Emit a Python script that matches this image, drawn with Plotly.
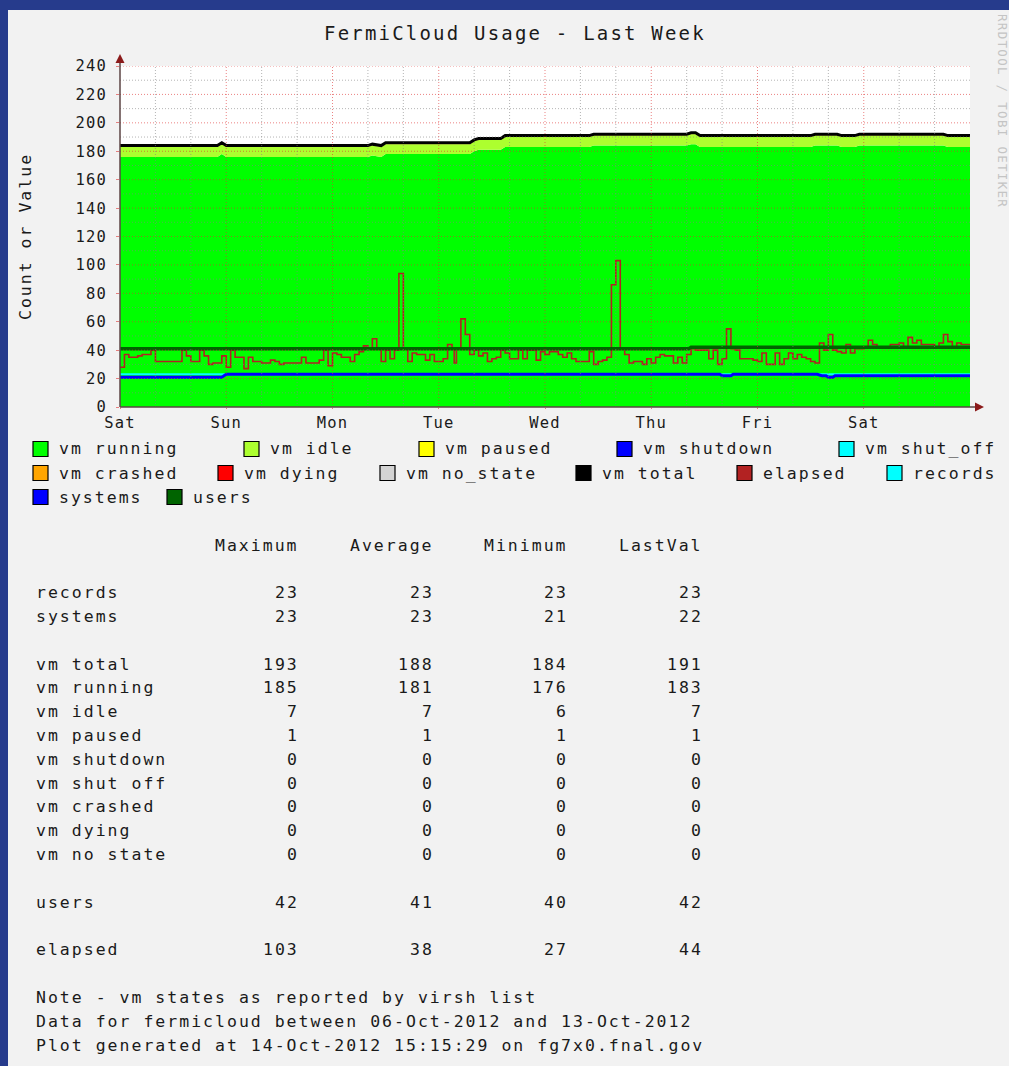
import plotly.graph_objects as go

# ---------------- data ----------------
# hours since Sat 06-Oct-2012 00:00
state_hours = [0, 22, 23, 24, 56, 57, 59, 60, 79, 80, 81, 86, 87, 106, 107, 128, 129, 130, 131,
               156, 157, 162, 163, 166, 167, 186, 187, 192]
vm_total = [184, 184, 186, 184, 184, 185, 184, 186, 186, 188, 189, 189, 191, 191, 192, 192, 193, 193, 191,
            191, 192, 192, 191, 191, 192, 192, 191, 191]
vm_running = [176, 176, 178, 176, 176, 177, 176, 178, 178, 180, 181, 181, 183, 183, 184, 184, 185, 185, 183,
              183, 184, 184, 183, 183, 184, 184, 183, 183]
vm_idle = [7, 7, 7, 7, 7, 7, 7, 7, 7, 7, 7, 7, 7, 7, 7, 7, 7, 7, 7,
           7, 7, 7, 7, 7, 7, 7, 7, 7]
vm_paused = [1, 1, 1, 1, 1, 1, 1, 1, 1, 1, 1, 1, 1, 1, 1, 1, 1, 1, 1,
             1, 1, 1, 1, 1, 1, 1, 1, 1]

elapsed_hours = [0, 1, 2, 4, 5, 7, 8, 14, 15, 16, 18, 19, 20, 21, 23, 24, 25, 26, 28, 29, 30, 32, 34, 35,
                 36, 37, 41, 42, 45, 46, 47, 48, 49, 50, 52, 53, 54, 55, 56, 57, 58, 59, 60, 61, 62, 63,
                 64, 65, 66, 67, 69, 70, 71, 73, 74, 75, 75.5, 76, 77, 78, 79, 80, 81, 82, 83, 84, 85,
                 86, 87, 88, 90, 91, 92, 94, 95, 96, 97, 99, 100, 101, 102, 103, 106, 107, 108, 109,
                 110, 111, 112, 113, 114, 115, 116, 118, 119, 120, 121, 122, 123, 125, 126, 127, 128,
                 129, 130, 133, 134, 135, 136, 137, 138, 139, 140, 141, 143, 144, 145, 146, 148, 149,
                 150, 151, 152, 153, 154, 155, 156, 157, 158, 159, 160, 161, 162, 163, 164, 165, 166,
                 168, 169, 170, 171, 174, 176, 177, 178, 179, 180, 181, 183, 184, 185, 186, 187, 188,
                 189, 190, 192]
elapsed = [28, 37, 35, 36, 37, 40, 32, 40, 36, 32, 40, 36, 30, 31, 36, 28, 40, 35, 27, 35, 32, 31, 33, 32,
           30, 31, 35, 31, 33, 40, 29, 38, 37, 35, 32, 37, 39, 43, 41, 48, 41, 32, 40, 34, 40, 94,
           41, 32, 38, 37, 33, 37, 32, 34, 44, 41, 31, 41, 62, 51, 37, 40, 36, 38, 32, 34, 35,
           40, 38, 34, 40, 34, 40, 33, 39, 37, 39, 37, 35, 38, 34, 32, 39, 30, 32, 33,
           35, 86, 103, 41, 37, 31, 32, 30, 34, 31, 35, 37, 36, 31, 35, 31, 37,
           41, 40, 34, 40, 30, 34, 55, 41, 40, 34, 34, 33, 32, 38, 30, 38, 30,
           34, 38, 34, 37, 35, 34, 32, 31, 45, 40, 51, 40, 39, 38, 44, 38, 41,
           42, 47, 44, 42, 44, 45, 42, 49, 45, 47, 44, 44, 42, 45, 51, 46, 42,
           45, 44, 44]

records_hours = [0, 192]
records = [23, 23]
systems_hours = [0, 23, 24, 135.5, 136, 138, 138.5, 157.5, 158.5, 159.5, 160, 161, 161.5, 192]
systems = [21, 21, 23, 23, 22, 22, 23, 23, 22, 22, 21, 21, 22, 22]
users_hours = [0, 128.5, 129, 192]
users = [41, 41, 42, 42]

day_ticks = [0, 24, 48, 72, 96, 120, 144, 168]
day_labels = ["Sat", "Sun", "Mon", "Tue", "Wed", "Thu", "Fri", "Sat"]
y_ticks = [0, 20, 40, 60, 80, 100, 120, 140, 160, 180, 200, 220, 240]

legend_rows = [
    [("vm running", "#00FF00"), ("vm idle", "#ADFF2F"), ("vm paused", "#FFFF00"),
     ("vm shutdown", "#0000FF"), ("vm shut_off", "#00FFFF")],
    [("vm crashed", "#FFA500"), ("vm dying", "#FF0000"), ("vm no_state", "#D3D3D3"),
     ("vm total", "#000000"), ("elapsed", "#B22222"), ("records", "#00FFFF")],
    [("systems", "#0000FF"), ("users", "#006400")],
]

table_header = ["Maximum", "Average", "Minimum", "LastVal"]
table_rows = ["records", "systems", "vm total", "vm running", "vm idle", "vm paused", "vm shutdown",
              "vm shut off", "vm crashed", "vm dying", "vm no state", "users", "elapsed"]
t_max = [23, 23, 193, 185, 7, 1, 0, 0, 0, 0, 0, 42, 103]
t_avg = [23, 23, 188, 181, 7, 1, 0, 0, 0, 0, 0, 41, 38]
t_min = [23, 21, 184, 176, 6, 1, 0, 0, 0, 0, 0, 40, 27]
t_last = [23, 22, 191, 183, 7, 1, 0, 0, 0, 0, 0, 42, 44]
footnotes = ["Note - vm states as reported by virsh list",
             "Data for fermicloud between 06-Oct-2012 and 13-Oct-2012",
             "Plot generated at 14-Oct-2012 15:15:29 on fg7x0.fnal.gov"]

# ---------------- layout helpers ----------------
W, H = 1009, 1066
L, R, T, B = 120, 970, 66, 407
MONO = "DejaVu Sans Mono"
TXT = "#1a1a1a"


def px(x):
    return (x - L) / (R - L)


def py(y):
    return (B - y) / (B - T)


def sp(text, ls):
    return f'<span style="letter-spacing:{ls}px">{text}</span>'


fig = go.Figure()

# stacked areas
fig.add_trace(go.Scatter(x=state_hours, y=vm_running, stackgroup="vm", mode="lines",
                         line=dict(width=0), fillcolor="#00FF00", name="vm running"))
fig.add_trace(go.Scatter(x=state_hours, y=vm_idle, stackgroup="vm", mode="lines",
                         line=dict(width=0), fillcolor="#ADFF2F", name="vm idle"))
fig.add_trace(go.Scatter(x=state_hours, y=vm_paused, stackgroup="vm", mode="lines",
                         line=dict(width=0), fillcolor="#FFFF00", name="vm paused"))
# lines
fig.add_trace(go.Scatter(x=state_hours, y=vm_total, mode="lines",
                         line=dict(color="#000000", width=3), name="vm total"))
fig.add_trace(go.Scatter(x=elapsed_hours, y=elapsed, mode="lines",
                         line=dict(color="#B22222", width=1.6, shape="hv"), name="elapsed"))
fig.add_trace(go.Scatter(x=records_hours, y=records, mode="lines",
                         line=dict(color="#00FFFF", width=2), name="records"))
fig.add_trace(go.Scatter(x=systems_hours, y=systems, mode="lines",
                         line=dict(color="#0000FF", width=3), name="systems"))
fig.add_trace(go.Scatter(x=users_hours, y=users, mode="lines",
                         line=dict(color="#006400", width=3.5), name="users"))

shapes = []
# grid (drawn over areas, as rrdtool does)
MAJ = "rgba(222,48,48,0.6)"
MIN = "rgba(130,130,130,0.6)"
for v in range(10, 241, 10):
    shapes.append(dict(type="line", xref="paper", yref="y", x0=0, x1=1, y0=v, y1=v, layer="above",
                       line=dict(color=MAJ if v % 20 == 0 else MIN, width=1, dash="1px,2px")))
for h in range(8, 192, 8):
    shapes.append(dict(type="line", xref="x", yref="paper", x0=h, x1=h, y0=0, y1=1, layer="above",
                       line=dict(color=MAJ if h % 24 == 0 else MIN, width=1, dash="1px,2px")))

# axis lines and arrows
AX = "#5c4444"
ARW = "#8b1a1a"
shapes.append(dict(type="line", xref="paper", yref="paper", x0=0, x1=0, y0=0, y1=py(60),
                   line=dict(color=AX, width=1.5), layer="above"))
shapes.append(dict(type="line", xref="paper", yref="paper", x0=0, x1=px(977), y0=0, y1=0,
                   line=dict(color=AX, width=1.5), layer="above"))
shapes.append(dict(type="path", xref="paper", yref="paper", layer="above",
                   path=f"M {px(115.5)} {py(63)} L {px(124.5)} {py(63)} L {px(120)} {py(54)} Z",
                   fillcolor=ARW, line=dict(width=0)))
shapes.append(dict(type="path", xref="paper", yref="paper", layer="above",
                   path=f"M {px(975)} {py(402.5)} L {px(975)} {py(411.5)} L {px(984)} {py(407)} Z",
                   fillcolor=ARW, line=dict(width=0)))

# blue frame of the page (top and left)
FRAME = "#263b8c"
shapes.append(dict(type="rect", xref="paper", yref="paper", x0=px(0), x1=px(W), y0=py(10), y1=py(0),
                   fillcolor=FRAME, line=dict(width=0), layer="below"))
shapes.append(dict(type="rect", xref="paper", yref="paper", x0=px(0), x1=px(8), y0=py(H), y1=py(0),
                   fillcolor=FRAME, line=dict(width=0), layer="below"))

annotations = []


def text(x, y, s, size=16.5, ls=2.0, xanchor="left", yanchor="middle", color=TXT, angle=0):
    annotations.append(dict(x=px(x), y=py(y), xref="paper", yref="paper", text=sp(s, ls),
                            showarrow=False, xanchor=xanchor, yanchor=yanchor, textangle=angle,
                            font=dict(family=MONO, size=size, color=color)))


# title, axis title, watermark
text(515, 33, "FermiCloud Usage - Last Week", size=19, ls=2.2, xanchor="center")
text(25, 237, "Count or Value", size=16.5, ls=2.0, xanchor="center", angle=-90)
text(1002, 12, "RRDTOOL / TOBI OETIKER", size=12.5, ls=1.3, xanchor="center", yanchor="top",
     color="#c4c4c4", angle=90)

# custom legend (rrdtool style, justified rows)
legend_x = [[33, 244, 419, 617, 839],
            [33, 218, 380, 576, 737, 887],
            [33, 167]]
legend_y = [449, 473, 497]
for row, xs, yy in zip(legend_rows, legend_x, legend_y):
    for (name, col), xx in zip(row, xs):
        shapes.append(dict(type="rect", xref="paper", yref="paper", x0=px(xx), x1=px(xx + 15),
                           y0=py(yy + 7.5), y1=py(yy - 7.5), fillcolor=col,
                           line=dict(color="#000000", width=1.2), layer="above"))
        text(xx + 24, yy, name)

# statistics table
col_right = [301, 436, 570, 705]
LINE0, LH = 545, 23.81
for hdr, xr in zip(table_header, col_right):
    text(xr, LINE0, hdr, xanchor="right")
row_lines = [2, 3, 5, 6, 7, 8, 9, 10, 11, 12, 13, 15, 17]
for i, name in enumerate(table_rows):
    yy = LINE0 + LH * row_lines[i]
    text(34, yy, name)
    for vals, xr in zip([t_max, t_avg, t_min, t_last], col_right):
        text(xr, yy, str(vals[i]), xanchor="right")
for j, note in enumerate(footnotes):
    text(34, LINE0 + LH * (19 + j), note)

fig.update_layout(
    width=W, height=H, autosize=False,
    margin=dict(l=L, r=W - R, t=T, b=H - B, pad=0),
    paper_bgcolor="#f2f2f2", plot_bgcolor="#ffffff",
    showlegend=False,
    shapes=shapes, annotations=annotations,
    xaxis=dict(range=[0, 192], tickvals=day_ticks, ticktext=[sp(d, 1.2) for d in day_labels],
               showgrid=False, zeroline=False, showline=False, ticks="outside", ticklen=1,
               tickcolor="rgba(222,48,48,0.6)",
               tickfont=dict(family=MONO, size=15.5, color=TXT), fixedrange=True),
    yaxis=dict(range=[0, 240], tickvals=y_ticks, ticktext=[sp(str(v), 1.1) for v in y_ticks],
               showgrid=False, zeroline=False, showline=False, ticks="outside", ticklen=3,
               tickcolor="rgba(222,48,48,0.6)", ticklabelstandoff=6,
               tickfont=dict(family=MONO, size=15.5, color=TXT), fixedrange=True),
)

fig.write_html("out.html",
               config={"displayModeBar": False, "staticPlot": True},
               post_script="document.body.style.margin='0';document.body.style.padding='0';"
                           "document.body.style.overflow='hidden';"
                           "document.documentElement.style.overflow='hidden';")
